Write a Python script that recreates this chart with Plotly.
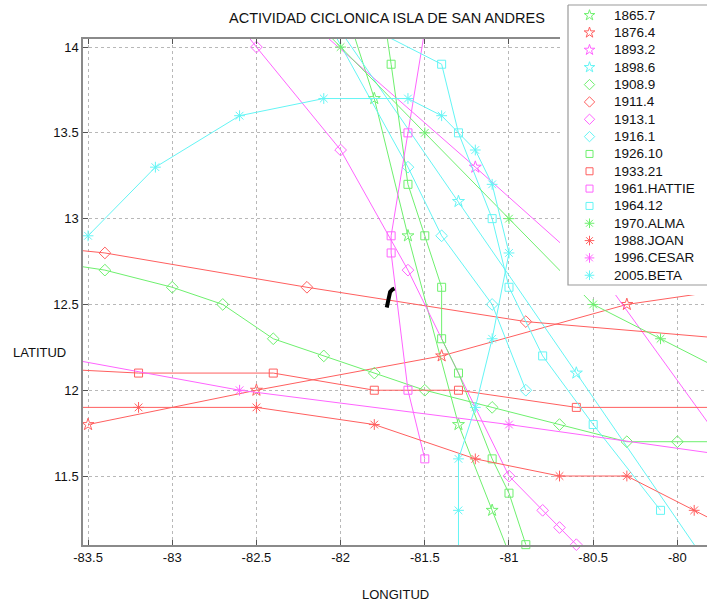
import plotly.graph_objects as go

# ---------------- data (lon, lat) ----------------
names = ["1865.7", "1876.4", "1893.2", "1898.6",
         "1908.9", "1911.4", "1913.1", "1916.1",
         "1926.10", "1933.21", "1961.HATTIE", "1964.12",
         "1970.ALMA", "1988.JOAN", "1996.CESAR", "2005.BETA"]

lon_1865_7 = [-81.93, -81.8, -81.6, -81.3, -81.1, -80.96]
lat_1865_7 = [14.1, 13.7, 12.9, 11.8, 11.3, 10.95]

lon_1876_4 = [-83.5, -82.5, -81.4, -80.3, -79.6]
lat_1876_4 = [11.8, 12.0, 12.2, 12.5, 12.6]

lon_1893_2 = [-82.13, -81.2, -80.4, -79.7]
lat_1893_2 = [14.1, 13.3, 12.6, 11.65]

lon_1898_6 = [-82.04, -81.3, -80.6, -79.83]
lat_1898_6 = [14.15, 13.1, 12.1, 11.0]

lon_1908_9 = [-83.6, -83.4, -83.0, -82.7, -82.4, -82.1, -81.8, -81.5, -81.1, -80.7, -80.3, -80.0, -79.6]
lat_1908_9 = [12.73, 12.7, 12.6, 12.5, 12.3, 12.2, 12.1, 12.0, 11.9, 11.8, 11.7, 11.7, 11.7]

lon_1911_4 = [-83.6, -83.4, -82.2, -80.9, -79.7]
lat_1911_4 = [12.82, 12.8, 12.6, 12.4, 12.3]

lon_1913_1 = [-82.58, -82.5, -82.0, -81.6, -81.0, -80.8, -80.7, -80.6]
lat_1913_1 = [14.1, 14.0, 13.4, 12.7, 11.5, 11.3, 11.2, 11.1]

lon_1916_1 = [-82.05, -81.6, -81.4, -81.1, -80.9]
lat_1916_1 = [14.1, 13.3, 12.9, 12.5, 12.0]

lon_1926_10 = [-81.73, -81.7, -81.6, -81.5, -81.4, -81.4, -81.3, -81.1, -81.0, -80.9]
lat_1926_10 = [14.1, 13.9, 13.2, 12.9, 12.6, 12.3, 12.1, 11.6, 11.4, 11.1]

lon_1933_21 = [-83.6, -83.2, -82.4, -81.8, -81.3, -80.6, -79.8]
lat_1933_21 = [12.12, 12.1, 12.1, 12.0, 12.0, 11.9, 11.9]

lon_1961_hattie = [-81.5, -81.6, -81.7, -81.7, -81.6, -81.5]
lat_1961_hattie = [14.1, 13.5, 12.9, 12.8, 12.0, 11.6]

lon_1964_12 = [-81.8, -81.4, -81.3, -81.1, -81.0, -80.8, -80.5, -80.1]
lat_1964_12 = [14.1, 13.9, 13.5, 13.0, 12.6, 12.2, 11.8, 11.3]

lon_1970_alma = [-82.1, -82.0, -81.5, -81.0, -80.5, -80.1, -79.7]
lat_1970_alma = [14.1, 14.0, 13.5, 13.0, 12.5, 12.3, 12.1]

lon_1988_joan = [-83.6, -83.2, -82.5, -81.8, -81.2, -80.7, -80.3, -79.9, -79.7]
lat_1988_joan = [11.9, 11.9, 11.9, 11.8, 11.6, 11.5, 11.5, 11.3, 11.2]

lon_1996_cesar = [-83.6, -82.6, -81.0, -79.7]
lat_1996_cesar = [12.18, 12.0, 11.8, 11.62]

lon_2005_beta = [-83.5, -83.1, -82.6, -82.1, -81.6, -81.4, -81.2, -81.1, -81.0, -81.1, -81.2, -81.3, -81.3, -81.3]
lat_2005_beta = [12.9, 13.3, 13.6, 13.7, 13.7, 13.6, 13.4, 13.2, 12.8, 12.3, 11.9, 11.6, 11.3, 10.95]

# San Andres island outline
lon_island = [-81.726, -81.716, -81.706, -81.692, -81.68]
lat_island = [12.482, 12.53, 12.573, 12.588, 12.593]

x_ticks = [-83.5, -83, -82.5, -82, -81.5, -81, -80.5, -80]
x_tick_labels = ["-83.5", "-83", "-82.5", "-82", "-81.5", "-81", "-80.5", "-80"]
y_ticks = [11.5, 12, 12.5, 13, 13.5, 14]
y_tick_labels = ["11.5", "12", "12.5", "13", "13.5", "14"]

# ---------------- styling ----------------
GREEN = "rgb(110,240,110)"
RED = "rgb(255,95,95)"
MAG = "rgb(255,100,255)"
CYAN = "rgb(100,245,245)"
colors = [GREEN, RED, MAG, CYAN] * 4
symbols = ["star-open"] * 4 + ["diamond-open"] * 4 + ["square-open"] * 4 + ["asterisk-open"] * 4
msizes = [9] * 4 + [9] * 4 + [8] * 4 + [9] * 4

series = [
    (lon_1865_7, lat_1865_7), (lon_1876_4, lat_1876_4), (lon_1893_2, lat_1893_2), (lon_1898_6, lat_1898_6),
    (lon_1908_9, lat_1908_9), (lon_1911_4, lat_1911_4), (lon_1913_1, lat_1913_1), (lon_1916_1, lat_1916_1),
    (lon_1926_10, lat_1926_10), (lon_1933_21, lat_1933_21), (lon_1961_hattie, lat_1961_hattie), (lon_1964_12, lat_1964_12),
    (lon_1970_alma, lat_1970_alma), (lon_1988_joan, lat_1988_joan), (lon_1996_cesar, lat_1996_cesar), (lon_2005_beta, lat_2005_beta),
]

# the page body margin is removed (post_script), so figure px == screen px
W, H = 707, 604
ML, MB = 83, 59
PW = W - ML                 # plot width in px
PH = H - MB                 # paper height in px (top margin 0)
PLOT_TOP = 39               # px where the axes box starts

XR = [-83.53, -79.824]
YR = [11.098, 14.047]

FONT = "Liberation Sans, Arial, Helvetica, sans-serif"


def sx(px):   # screen x -> paper x
    return (px - ML) / PW


def sy(py):   # screen y -> paper y
    return (PH - py) / PH


def in_view(lo, la):
    return -83.56 <= lo <= -79.75 and 11.07 <= la <= 14.075


fig = go.Figure()

for name, (lo, la), col, sym, ms in zip(names, series, colors, symbols, msizes):
    fig.add_trace(go.Scatter(
        x=lo, y=la, mode="lines+markers", name=name, showlegend=False,
        cliponaxis=False,
        line=dict(color=col, width=1.0),
        marker=dict(symbol=sym, size=ms, color=col,
                    opacity=[1 if in_view(a, b) else 0 for a, b in zip(lo, la)],
                    line=dict(color=col, width=1.0)),
        xaxis="x", yaxis="y", hoverinfo="name",
    ))

fig.add_trace(go.Scatter(
    x=lon_island, y=lat_island, mode="lines", showlegend=False,
    line=dict(color="black", width=4), xaxis="x", yaxis="y", hoverinfo="skip"))

# ---------------- custom legend box (own pixel-like axes, screen coords) ----------------
LX0, LX1 = 560, 707
LY0, LY1 = 0, 295
box_x = [568, 730, 730, 568, 568]
box_y = [5, 5, 285, 285, 5]
fig.add_trace(go.Scatter(
    x=box_x, y=box_y, mode="lines", fill="toself", fillcolor="white",
    line=dict(color="#9a9a9a", width=1.2), showlegend=False,
    xaxis="x2", yaxis="y2", hoverinfo="skip"))

ENTRY_Y0, ENTRY_DY = 15.3, 17.33
annotations = []
for i, (name, col, sym, ms) in enumerate(zip(names, colors, symbols, msizes)):
    yy = ENTRY_Y0 + ENTRY_DY * i
    fig.add_trace(go.Scatter(
        x=[589.5], y=[yy], mode="markers", showlegend=False, cliponaxis=False,
        marker=dict(symbol=sym, size=ms - 1, color=col, line=dict(color=col, width=1.0)),
        xaxis="x2", yaxis="y2", hoverinfo="skip"))
    annotations.append(dict(
        x=612, y=yy, xref="x2", yref="y2", text=name, showarrow=False,
        xanchor="left", yanchor="middle", font=dict(family=FONT, size=13.5, color="#111")))

annotations += [
    dict(text="ACTIVIDAD CICLONICA ISLA DE SAN ANDRES", x=sx(387), y=sy(18),
         xref="paper", yref="paper", showarrow=False, xanchor="center", yanchor="middle",
         font=dict(family=FONT, size=14.5, color="#111")),
    dict(text="LONGITUD", x=sx(395), y=sy(595), xref="paper", yref="paper",
         showarrow=False, xanchor="center", yanchor="middle",
         font=dict(family=FONT, size=13, color="#111")),
    dict(text="LATITUD", x=sx(39), y=sy(352), xref="paper", yref="paper",
         showarrow=False, xanchor="center", yanchor="middle",
         font=dict(family=FONT, size=13, color="#111")),
]

axis_common = dict(
    showgrid=True, gridcolor="#b8b8b8", griddash="dot", gridwidth=1,
    zeroline=False, showline=True, linecolor="#8a8a8a", linewidth=1.5,
    ticks="inside", ticklen=5, tickcolor="#555", tickwidth=1,
    tickfont=dict(family=FONT, size=13, color="#111"), fixedrange=True,
)

fig.update_layout(
    width=W, height=H,
    margin=dict(l=ML, r=0, t=0, b=MB),
    paper_bgcolor="white", plot_bgcolor="white",
    showlegend=False,
    xaxis=dict(domain=[0, 1], range=XR, tickvals=x_ticks, ticktext=x_tick_labels,
               mirror="ticks", anchor="y", **axis_common),
    yaxis=dict(domain=[0, (PH - PLOT_TOP) / PH], range=YR, tickvals=y_ticks,
               ticktext=y_tick_labels, mirror=False, anchor="x", **axis_common),
    xaxis2=dict(domain=[sx(LX0), 1], range=[LX0, LX1], visible=False,
                anchor="y2", fixedrange=True),
    yaxis2=dict(domain=[sy(LY1), 1], range=[LY1, LY0], visible=False,
                anchor="x2", fixedrange=True),
    annotations=annotations,
)

fig.write_html(
    "out.html",
    config={"displayModeBar": False},
    post_script="document.body.style.margin='0';document.body.style.overflow='hidden';",
)
